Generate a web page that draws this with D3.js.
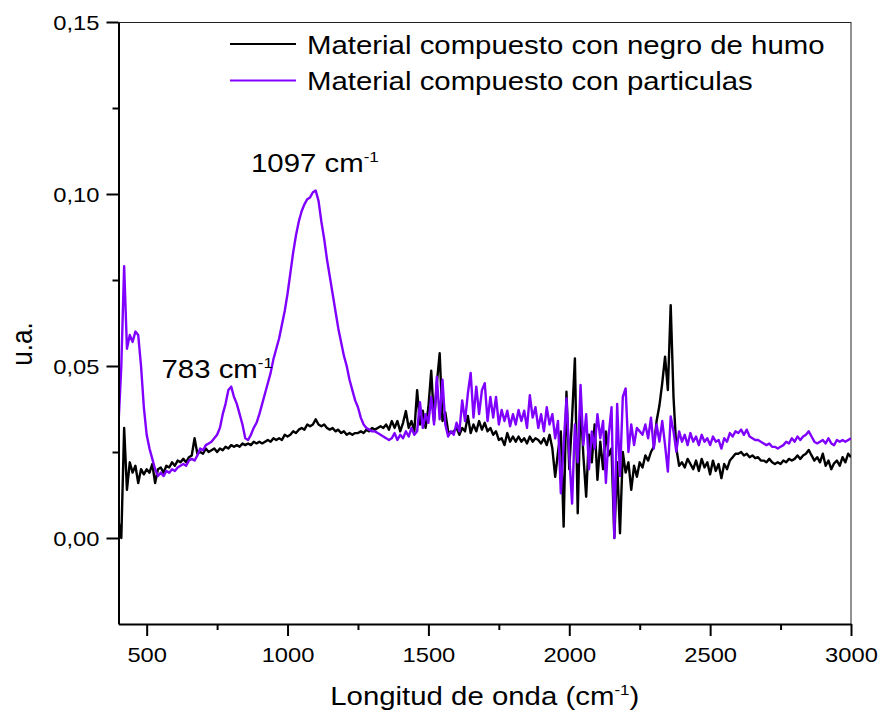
<!DOCTYPE html>
<html>
<head>
<meta charset="utf-8">
<script src="https://cdnjs.cloudflare.com/ajax/libs/d3/7.8.5/d3.min.js"></script>
<style>
  body { margin: 0; background: #fff; }
  text { font-family: "Liberation Sans", Arial, sans-serif; fill: #000; }
</style>
</head>
<body>
<div id="chart"></div>
<script>
// SVG size and margins (plot frame: x 118.5..851, y 22..624)
var svgWidth = 884;
var svgHeight = 727;
var margin = { top: 22, right: 33, bottom: 103, left: 118.5 };
var chartWidth = svgWidth - margin.left - margin.right;
var chartHeight = svgHeight - margin.top - margin.bottom;

// text in the original picture is a bit wider than plain Arial
var stretch = 1.13;

// ---------------- data ----------------
// sampling grid in cm-1 (400 .. 3000, every 10)
var wavenumbers = d3.range(400, 3001, 10);

// Material compuesto con negro de humo (black)
var negroHumo = [
  0.005, 0.000, 0.032, 0.014, 0.022, 0.019, 0.021, 0.016, 0.020, 0.0185,   // 400
  0.020, 0.019, 0.0215, 0.016, 0.020, 0.0205, 0.019, 0.021, 0.0205, 0.022, // 500
  0.021, 0.0225, 0.022, 0.023, 0.022, 0.0235, 0.024, 0.029, 0.0245, 0.025, // 600
  0.0245, 0.026, 0.025, 0.0255, 0.026, 0.025, 0.026, 0.0255, 0.0265, 0.026, // 700
  0.027, 0.0265, 0.027, 0.0265, 0.0275, 0.027, 0.0275, 0.027, 0.028, 0.0275, // 800
  0.028, 0.0275, 0.028, 0.0285, 0.028, 0.029, 0.0285, 0.029, 0.0285, 0.030, // 900
  0.0295, 0.030, 0.031, 0.0305, 0.0315, 0.032, 0.0315, 0.033, 0.0325, 0.033, // 1000
  0.0345, 0.033, 0.0325, 0.033, 0.032, 0.0315, 0.032, 0.031, 0.0315, 0.0305, // 1100
  0.031, 0.030, 0.0305, 0.030, 0.0305, 0.0305, 0.031, 0.0305, 0.0315, 0.031, // 1200
  0.032, 0.0315, 0.032, 0.0325, 0.032, 0.033, 0.0315, 0.034, 0.032, 0.034,  // 1300
  0.031, 0.0335, 0.0369, 0.032, 0.034, 0.031, 0.043, 0.033, 0.037, 0.032,   // 1400
  0.038, 0.0486, 0.034, 0.045, 0.0537, 0.034, 0.0365, 0.031, 0.0305, 0.031, // 1500
  0.032, 0.030, 0.032, 0.031, 0.0355, 0.0305, 0.033, 0.031, 0.034, 0.0315,  // 1600
  0.0335, 0.031, 0.032, 0.030, 0.031, 0.0285, 0.029, 0.027, 0.0305, 0.028,  // 1700
  0.0295, 0.028, 0.0295, 0.028, 0.029, 0.0275, 0.0295, 0.028, 0.029, 0.0285, // 1800
  0.0275, 0.029, 0.027, 0.030, 0.026, 0.0178, 0.025, 0.031, 0.0033, 0.0425, // 1900
  0.020, 0.035, 0.0522, 0.0072, 0.040, 0.024, 0.012, 0.030, 0.022, 0.033,   // 2000
  0.0169, 0.028, 0.020, 0.031, 0.024, 0.026, 0.000, 0.022, 0.0014, 0.025,   // 2100
  0.019, 0.022, 0.014, 0.021, 0.0178, 0.022, 0.0205, 0.024, 0.0225, 0.025,  // 2200
  0.0265, 0.034, 0.0385, 0.045, 0.0527, 0.043, 0.0677, 0.041, 0.026, 0.021, // 2300
  0.022, 0.0205, 0.023, 0.0215, 0.020, 0.0225, 0.0195, 0.023, 0.0205, 0.022, // 2400
  0.0185, 0.0225, 0.0195, 0.0215, 0.0174, 0.0215, 0.020, 0.0225, 0.0235, 0.0245, // 2500
  0.0245, 0.025, 0.024, 0.0245, 0.0235, 0.024, 0.0232, 0.0235, 0.0225, 0.0225, // 2600
  0.022, 0.023, 0.022, 0.0215, 0.022, 0.0215, 0.0225, 0.022, 0.023, 0.0225, // 2700
  0.023, 0.024, 0.023, 0.024, 0.0245, 0.0256, 0.024, 0.0225, 0.0235, 0.022, // 2800
  0.0245, 0.021, 0.0225, 0.020, 0.0217, 0.0225, 0.021, 0.0235, 0.022, 0.0245, // 2900
  0.0235                                                                    // 3000
];

// Material compuesto con particulas (purple)
var particulas = [
  0.033, 0.050, 0.079, 0.055, 0.059, 0.057, 0.060, 0.059, 0.050, 0.038,    // 400
  0.030, 0.026, 0.023, 0.020, 0.018, 0.019, 0.018, 0.0195, 0.019, 0.020,   // 500
  0.0195, 0.0205, 0.021, 0.0215, 0.021, 0.0225, 0.023, 0.0225, 0.024, 0.026, // 600
  0.0255, 0.027, 0.0275, 0.028, 0.029, 0.030, 0.032, 0.036, 0.039, 0.043,  // 700
  0.044, 0.041, 0.039, 0.036, 0.033, 0.029, 0.0285, 0.030, 0.032, 0.0335,  // 800
  0.036, 0.039, 0.042, 0.045, 0.048, 0.052, 0.055, 0.058, 0.062, 0.066,    // 900
  0.071, 0.077, 0.083, 0.088, 0.092, 0.095, 0.097, 0.0985, 0.099, 0.1005,  // 1000
  0.101, 0.098, 0.092, 0.087, 0.081, 0.076, 0.071, 0.066, 0.061, 0.057,    // 1100
  0.053, 0.050, 0.046, 0.043, 0.040, 0.038, 0.035, 0.033, 0.032, 0.0315,   // 1200
  0.031, 0.031, 0.0305, 0.030, 0.0295, 0.029, 0.0285, 0.029, 0.0305, 0.0285, // 1300
  0.030, 0.029, 0.031, 0.0295, 0.032, 0.030, 0.031, 0.0395, 0.032, 0.036,  // 1400
  0.0335, 0.041, 0.033, 0.0469, 0.0345, 0.046, 0.033, 0.0295, 0.031, 0.030, // 1500
  0.0335, 0.031, 0.040, 0.034, 0.042, 0.048, 0.035, 0.044, 0.036, 0.043,   // 1600
  0.045, 0.034, 0.041, 0.035, 0.041, 0.033, 0.0372, 0.034, 0.037, 0.0325,  // 1700
  0.036, 0.033, 0.0372, 0.034, 0.037, 0.032, 0.0415, 0.035, 0.038, 0.032,  // 1800
  0.036, 0.031, 0.038, 0.033, 0.036, 0.029, 0.034, 0.013, 0.027, 0.0406,   // 1900
  0.024, 0.010, 0.033, 0.022, 0.0445, 0.027, 0.036, 0.020, 0.031, 0.026,   // 2000
  0.036, 0.029, 0.034, 0.016, 0.030, 0.038, 0.000, 0.039, 0.018, 0.041,    // 2100
  0.0435, 0.025, 0.033, 0.027, 0.032, 0.031, 0.030, 0.033, 0.029, 0.035,   // 2200
  0.026, 0.033, 0.028, 0.034, 0.027, 0.0193, 0.0353, 0.031, 0.0251, 0.031, // 2300
  0.028, 0.030, 0.027, 0.0305, 0.028, 0.0295, 0.027, 0.030, 0.028, 0.029,  // 2400
  0.027, 0.0295, 0.028, 0.0285, 0.026, 0.029, 0.028, 0.0305, 0.0295, 0.031, // 2500
  0.0305, 0.0315, 0.030, 0.0315, 0.0295, 0.029, 0.0285, 0.0285, 0.028, 0.0275, // 2600
  0.027, 0.0275, 0.0265, 0.0265, 0.026, 0.0265, 0.027, 0.028, 0.0275, 0.029, // 2700
  0.028, 0.0295, 0.0285, 0.0295, 0.030, 0.031, 0.0295, 0.028, 0.0275, 0.028, // 2800
  0.0285, 0.0275, 0.029, 0.0275, 0.027, 0.0285, 0.028, 0.0285, 0.028, 0.0285, // 2900
  0.029                                                                     // 3000
];

var seriesNames = ["Material compuesto con negro de humo", "Material compuesto con particulas"];
var seriesColors = ["#000000", "#8000ff"];

// ticks
var xTicks = [500, 1000, 1500, 2000, 2500, 3000];
var xMinorTicks = [750, 1250, 1750, 2250, 2750];
var yTicks = [0, 0.05, 0.10, 0.15];
var yMinorTicks = [0.025, 0.075, 0.125];

// peak labels
var peakLabels = [
  { wn: 783, text: "783 cm", x: 161.5, y: 378 },
  { wn: 1097, text: "1097 cm", x: 251, y: 172 }
];

// ---------------- svg ----------------
var svg = d3.select("#chart")
  .append("svg")
  .attr("width", svgWidth)
  .attr("height", svgHeight);

var chartGroup = svg.append("g")
  .attr("transform", `translate(${margin.left}, ${margin.top})`);

var xScale = d3.scaleLinear().domain([400, 3000]).range([0, chartWidth]);
var yScale = d3.scaleLinear().domain([-0.025, 0.15]).range([chartHeight, 0]);

// small helper: text with the horizontal stretch of the original
function addText(parent, x, y, size, anchor) {
  return parent.append("text")
    .attr("transform", `translate(${x},${y}) scale(${stretch},1)`)
    .attr("text-anchor", anchor)
    .style("font-size", size + "px");
}

// thin frame on top and right
chartGroup.append("line")
  .attr("x1", 0).attr("x2", chartWidth).attr("y1", 0.5).attr("y2", 0.5)
  .attr("stroke", "#222").attr("stroke-width", 1);
chartGroup.append("line")
  .attr("x1", chartWidth).attr("x2", chartWidth).attr("y1", 0).attr("y2", chartHeight)
  .attr("stroke", "#222").attr("stroke-width", 1);

// clip the spectra to the plot area
svg.append("defs").append("clipPath").attr("id", "plotClip")
  .append("rect").attr("x", 0).attr("y", 0).attr("width", chartWidth).attr("height", chartHeight);

var line = d3.line()
  .x((d, i) => xScale(wavenumbers[i]))
  .y(d => yScale(d));

chartGroup.append("g").attr("clip-path", "url(#plotClip)")
  .selectAll("path")
  .data([negroHumo, particulas])
  .enter()
  .append("path")
  .attr("d", d => line(d))
  .attr("fill", "none")
  .attr("stroke", (d, i) => seriesColors[i])
  .attr("stroke-width", 2.4)
  .attr("stroke-linejoin", "round");

// ---------------- axes ----------------
var bottomAxis = chartGroup.append("g")
  .attr("transform", `translate(0, ${chartHeight})`)
  .call(d3.axisBottom(xScale).tickValues(xTicks).tickSize(12).tickSizeOuter(0).tickFormat(d3.format("d")));

chartGroup.append("g")
  .attr("transform", `translate(0, ${chartHeight})`)
  .call(d3.axisBottom(xScale).tickValues(xMinorTicks).tickSize(6).tickFormat(""))
  .call(g => g.select(".domain").remove());

var leftAxis = chartGroup.append("g")
  .call(d3.axisLeft(yScale).tickValues(yTicks).tickSize(12).tickSizeOuter(0)
    .tickFormat(d => d3.format(".2f")(d).replace(".", ",")));

chartGroup.append("g")
  .call(d3.axisLeft(yScale).tickValues(yMinorTicks).tickSize(6).tickFormat(""))
  .call(g => g.select(".domain").remove());

chartGroup.selectAll(".domain, .tick line")
  .attr("stroke", "#000")
  .attr("stroke-width", 2);

bottomAxis.attr("font-size", 21).attr("font-family", null);
bottomAxis.selectAll("text")
  .attr("y", 0).attr("dy", 0)
  .attr("transform", `translate(0,38) scale(${stretch},1)`);

leftAxis.attr("font-size", 21).attr("font-family", null);
leftAxis.selectAll("text")
  .attr("x", 0).attr("dy", 0)
  .attr("transform", `translate(-19,7.5) scale(${stretch},1)`);

// axis titles
var xTitle = addText(svg, margin.left + chartWidth / 2, 705, 26, "middle");
xTitle.append("tspan").text("Longitud de onda (cm");
xTitle.append("tspan").attr("dy", -10).style("font-size", "15px").text("-1");
xTitle.append("tspan").attr("dy", 10).text(")");

svg.append("text")
  .attr("transform", `translate(32, 344) rotate(-90) scale(1, ${stretch})`)
  .attr("text-anchor", "middle")
  .style("font-size", "26px")
  .text("u.a.");

// peak annotations
peakLabels.forEach(function(p) {
  var t = addText(svg, p.x, p.y, 26, "start");
  t.append("tspan").text(p.text);
  t.append("tspan").attr("dy", -10).style("font-size", "15px").text("-1");
});

// ---------------- legend ----------------
var legend = svg.append("g");
seriesNames.forEach(function(name, i) {
  var ly = 44 + i * 36.5;
  legend.append("line")
    .attr("x1", 230).attr("x2", 296).attr("y1", ly).attr("y2", ly)
    .attr("stroke", seriesColors[i]).attr("stroke-width", 2);
  addText(legend, 307, ly + 9.5, 26, "start").text(name);
});
</script>
</body>
</html>
